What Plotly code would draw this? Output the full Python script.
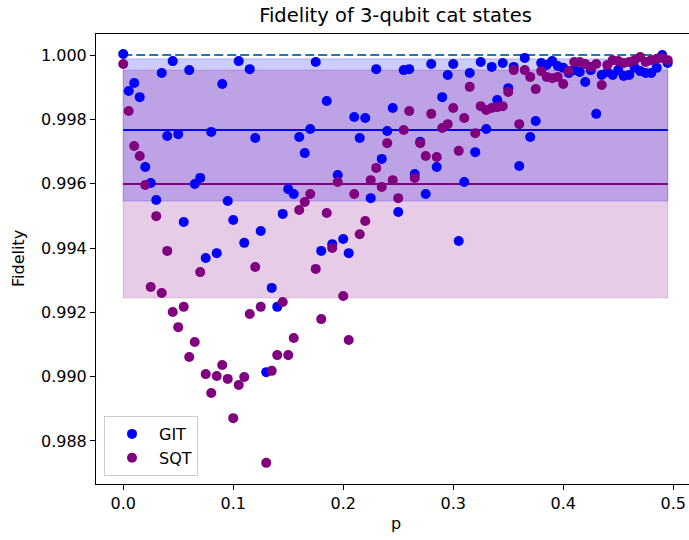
import plotly.graph_objects as go

p = [0.000, 0.005, 0.010, 0.015, 0.020, 0.025, 0.030, 0.035, 0.040, 0.045,
     0.050, 0.055, 0.060, 0.065, 0.070, 0.075, 0.080, 0.085, 0.090, 0.095,
     0.100, 0.105, 0.110, 0.115, 0.120, 0.125, 0.130, 0.135, 0.140, 0.145,
     0.150, 0.155, 0.160, 0.165, 0.170, 0.175, 0.180, 0.185, 0.190, 0.195,
     0.200, 0.205, 0.210, 0.215, 0.220, 0.225, 0.230, 0.235, 0.240, 0.245,
     0.250, 0.255, 0.260, 0.265, 0.270, 0.275, 0.280, 0.285, 0.290, 0.295,
     0.300, 0.305, 0.310, 0.315, 0.320, 0.325, 0.330, 0.335, 0.340, 0.345,
     0.350, 0.355, 0.360, 0.365, 0.370, 0.375, 0.380, 0.385, 0.390, 0.395,
     0.400, 0.405, 0.410, 0.415, 0.420, 0.425, 0.430, 0.435, 0.440, 0.445,
     0.450, 0.455, 0.460, 0.465, 0.470, 0.475, 0.480, 0.485, 0.490, 0.495]

git = [1.00003, 0.99888, 0.99913, 0.99869, 0.99652, 0.99602, 0.99549, 0.99944, 0.99748, 0.99981,
       0.99754, 0.99481, 0.99953, 0.99599, 0.99618, 0.99369, 0.99761, 0.99384, 0.99910, 0.99546,
       0.99487, 0.99981, 0.99416, 0.99956, 0.99742, 0.99453, 0.99014, 0.99276, 0.99217, 0.99506,
       0.99583, 0.99568, 0.99745, 0.99695, 0.99770, 0.99978, 0.99391, 0.99857, 0.99412, 0.99627,
       0.99428, 0.99384, 0.99807, 0.99742, 0.99804, 0.99555, 0.99956, 0.99677, 0.99764, 0.99835,
       0.99512, 0.99953, 0.99956, 0.99630, 0.99730, 0.99568, 0.99972, 0.99652, 0.99869, 0.99938,
       0.99972, 0.99422, 0.99605, 0.99944, 0.99698, 0.99978, 0.99770, 0.99963, 0.99860, 0.99975,
       0.99897, 0.99963, 0.99655, 0.99991, 0.99745, 0.99795, 0.99975, 0.99969, 0.99981, 0.99966,
       0.99960, 0.99944, 0.99953, 0.99947, 0.99916, 0.99953, 0.99817, 0.99938, 0.99947, 0.99938,
       0.99953, 0.99935, 0.99938, 0.99960, 0.99950, 0.99944, 0.99944, 0.99960, 1.00000, 0.99975]

sqt = [0.99972, 0.99826, 0.99717, 0.99686, 0.99596, 0.99279, 0.99499, 0.99260, 0.99391, 0.99201,
       0.99154, 0.99217, 0.99061, 0.99108, 0.99325, 0.99008, 0.98949, 0.99002, 0.99036, 0.98993,
       0.98871, 0.98974, 0.98999, 0.99195, 0.99341, 0.99217, 0.98732, 0.99018, 0.99067, 0.99232,
       0.99067, 0.99120, 0.99518, 0.99543, 0.99568, 0.99335, 0.99179, 0.99509, 0.99400, 0.99605,
       0.99251, 0.99114, 0.99568, 0.99443, 0.99484, 0.99611, 0.99649, 0.99590, 0.99726, 0.99611,
       0.99555, 0.99767, 0.99826, 0.99618, 0.99726, 0.99686, 0.99817, 0.99683, 0.99773, 0.99785,
       0.99835, 0.99702, 0.99804, 0.99901, 0.99757, 0.99841, 0.99829, 0.99835, 0.99838, 0.99841,
       0.99885, 0.99953, 0.99785, 0.99953, 0.99932, 0.99894, 0.99950, 0.99932, 0.99928, 0.99932,
       0.99910, 0.99950, 0.99978, 0.99978, 0.99972, 0.99963, 0.99972, 0.99907, 0.99969, 0.99984,
       0.99981, 0.99975, 0.99978, 0.99984, 0.99994, 0.99978, 0.99984, 0.99988, 0.99991, 0.99984]

git_mean = 0.99767
git_std = 0.00221
sqt_mean = 0.99599
sqt_std = 0.00354
ideal = 1.0

x_ticks = [0.0, 0.1, 0.2, 0.3, 0.4, 0.5]
y_ticks = [0.988, 0.990, 0.992, 0.994, 0.996, 0.998, 1.000]

FONT = "DejaVu Sans"
p0, p1 = p[0], p[-1]

fig = go.Figure()


def band(mean, std, rgba):
    lo, hi = mean - std, mean + std
    fig.add_trace(go.Scatter(
        x=[p0, p1, p1, p0, p0], y=[lo, lo, hi, hi, lo],
        mode="lines", fill="toself", fillcolor=rgba,
        line=dict(color=rgba, width=1), showlegend=False, hoverinfo="skip"))


band(git_mean, git_std, "rgba(0,0,255,0.2)")
band(sqt_mean, sqt_std, "rgba(128,0,128,0.2)")

fig.add_trace(go.Scatter(x=[p0, p1], y=[ideal, ideal], mode="lines",
                         line=dict(color="#1f77b4", width=2, dash="9px,4px"),
                         showlegend=False, hoverinfo="skip"))
fig.add_trace(go.Scatter(x=[p0, p1], y=[git_mean, git_mean], mode="lines",
                         line=dict(color="blue", width=2),
                         showlegend=False, hoverinfo="skip"))
fig.add_trace(go.Scatter(x=[p0, p1], y=[sqt_mean, sqt_mean], mode="lines",
                         line=dict(color="purple", width=2),
                         showlegend=False, hoverinfo="skip"))

fig.add_trace(go.Scatter(x=p, y=git, mode="markers", name="GIT", legendgroup="g1",
                         marker=dict(color="blue", size=10, line=dict(width=0))))
fig.add_trace(go.Scatter(x=p, y=sqt, mode="markers", name="SQT", legendgroup="g2",
                         marker=dict(color="purple", size=10, line=dict(width=0))))

W, H = 689, 540
L, T, B = 96, 34, 56
pw, ph = W - L, H - T - B

fig.update_layout(
    width=W, height=H,
    margin=dict(l=L, r=0, t=T, b=B, pad=0),
    plot_bgcolor="white", paper_bgcolor="white",
    font=dict(family=FONT, size=16, color="black"),
    title=dict(text="Fidelity of 3-qubit cat states", font=dict(size=19.5, family=FONT, color="black"),
               x=(L + 299.5) / W, xanchor="center", xref="container",
               y=1 - 15 / H, yanchor="middle", yref="container"),
    xaxis=dict(range=[-0.02475, -0.02475 + pw / 1100.0], tickvals=x_ticks,
               ticktext=[f"{v:.1f}" for v in x_ticks],
               showgrid=False, zeroline=False, showline=True, mirror=True,
               linecolor="black", linewidth=1, ticks="outside", ticklen=5,
               tickwidth=1, tickcolor="black", tickfont=dict(size=16)),
    yaxis=dict(range=[0.986663, 1.000653], tickvals=y_ticks,
               ticktext=[f"{v:.3f}" for v in y_ticks],
               showgrid=False, zeroline=False, showline=True, mirror=False,
               linecolor="black", linewidth=1, ticks="outside", ticklen=5,
               tickwidth=1, tickcolor="black", tickfont=dict(size=16)),
    legend=dict(x=(104 - L) / pw, y=(484 - 476) / ph, xanchor="left", yanchor="bottom",
                bgcolor="rgba(255,255,255,0.8)", bordercolor="#cccccc", borderwidth=1,
                font=dict(size=16, family=FONT), tracegroupgap=0, itemwidth=44),
    annotations=[
        dict(text="Fidelity", textangle=-90, x=(18 - L) / pw, y=0.5, xref="paper", yref="paper",
             xanchor="center", yanchor="middle", showarrow=False, font=dict(size=16)),
        dict(text="p", x=299.5 / pw, y=(484 - 523) / ph, xref="paper", yref="paper",
             xanchor="center", yanchor="middle", showarrow=False, font=dict(size=16)),
    ],
)

fig.write_html("out.html")
